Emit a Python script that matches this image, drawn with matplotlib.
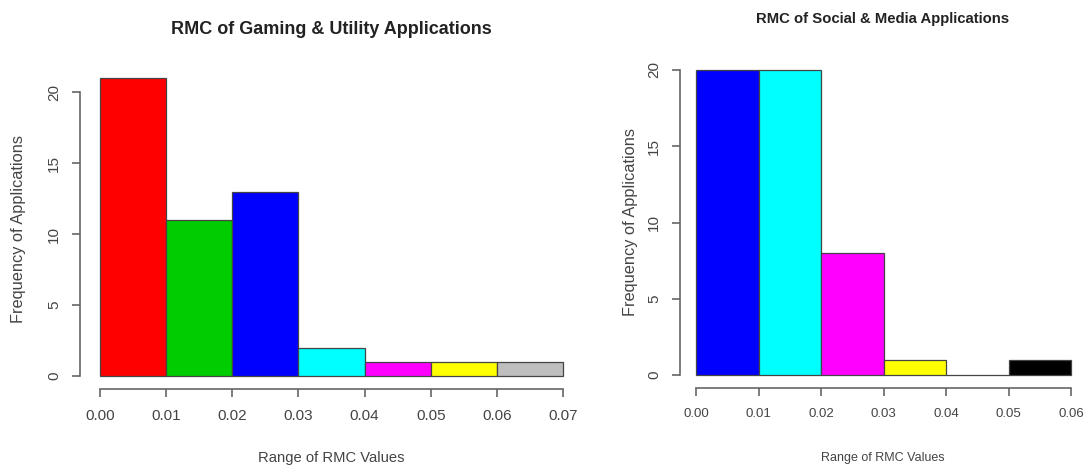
import numpy as np
import matplotlib
matplotlib.use("Agg")
import matplotlib.pyplot as plt

plt.rcParams["font.family"] = ["Liberation Sans", "DejaVu Sans"]

# histogram bins (RMC value ranges) and counts
gaming_edges = [0.00, 0.01, 0.02, 0.03, 0.04, 0.05, 0.06, 0.07]
gaming_counts = [21, 11, 13, 2, 1, 1, 1]
gaming_colors = ["#FF0000", "#00CD00", "#0000FF", "#00FFFF", "#FF00FF", "#FFFF00", "#BEBEBE"]

social_edges = [0.00, 0.01, 0.02, 0.03, 0.04, 0.05, 0.06]
social_counts = [20, 20, 8, 1, 0, 1]
social_colors = ["#0000FF", "#00FFFF", "#FF00FF", "#FFFF00", "#BEBEBE", "#000000"]

x_ticks_gaming = [0.00, 0.01, 0.02, 0.03, 0.04, 0.05, 0.06, 0.07]
x_ticks_social = [0.00, 0.01, 0.02, 0.03, 0.04, 0.05, 0.06]
y_ticks = [0, 5, 10, 15, 20]

AXIS_COL = "#666666"
TEXT_COL = "#444444"


def r_hist(ax, edges, counts, colors, xticks, ylim, left_off, xtick_fs):
    edges = np.array(edges)
    bars = ax.bar(edges[:-1], counts, width=np.diff(edges), align="edge",
                  color=colors, edgecolor="#444444", linewidth=0.9)
    for b in bars:
        b.set_clip_on(False)  # keep the empty bin visible as a baseline stroke
    ax.set_xlim(edges[0], edges[-1])
    ax.set_ylim(0, ylim)
    for s in ["top", "right"]:
        ax.spines[s].set_visible(False)
    ax.spines["left"].set_position(("outward", left_off))
    ax.spines["bottom"].set_position(("outward", 9.5))
    ax.spines["left"].set_bounds(0, 20)
    ax.spines["bottom"].set_bounds(xticks[0], xticks[-1])
    for s in ["left", "bottom"]:
        ax.spines[s].set_color(AXIS_COL)
        ax.spines[s].set_linewidth(1.2)
    ax.set_xticks(xticks)
    ax.set_xticklabels([f"{t:.2f}" for t in xticks], fontsize=xtick_fs)
    ax.set_yticks(y_ticks)
    ax.set_yticklabels([str(t) for t in y_ticks], rotation=90, va="center", fontsize=11)
    ax.tick_params(axis="both", colors=AXIS_COL, labelcolor=TEXT_COL,
                   length=5.5, width=1.2)
    ax.tick_params(axis="x", pad=9)
    ax.tick_params(axis="y", pad=8)


fig = plt.figure(figsize=(10.86, 4.70), dpi=100)

ax1 = fig.add_axes([100 / 1086, 94 / 470, 463 / 1086, 298 / 470])
r_hist(ax1, gaming_edges, gaming_counts, gaming_colors, x_ticks_gaming, 21, 14.4, 11)

ax2 = fig.add_axes([696 / 1086, 95 / 470, 375 / 1086, 305 / 470])
r_hist(ax2, social_edges, social_counts, social_colors, x_ticks_social, 20, 11.5, 9.5)

fig.text(331 / 1086, 1 - 30 / 470, "RMC of Gaming & Utility Applications",
         ha="center", va="center", fontsize=13, fontweight="bold", color="#222222")
fig.text(883 / 1086, 1 - 19 / 470, "RMC of Social & Media Applications",
         ha="center", va="center", fontsize=10.7, fontweight="bold", color="#222222")

fig.text(331 / 1086, 1 - 458 / 470, "Range of RMC Values",
         ha="center", va="center", fontsize=10.6, color=TEXT_COL)
fig.text(883 / 1086, 1 - 458 / 470, "Range of RMC Values",
         ha="center", va="center", fontsize=9, color=TEXT_COL)

fig.text(19 / 1086, 1 - 229 / 470, "Frequency of Applications", rotation=90,
         ha="center", va="center", fontsize=11.8, color=TEXT_COL)
fig.text(630 / 1086, 1 - 222 / 470, "Frequency of Applications", rotation=90,
         ha="center", va="center", fontsize=11.8, color=TEXT_COL)

fig.savefig("out.png", dpi=100)
